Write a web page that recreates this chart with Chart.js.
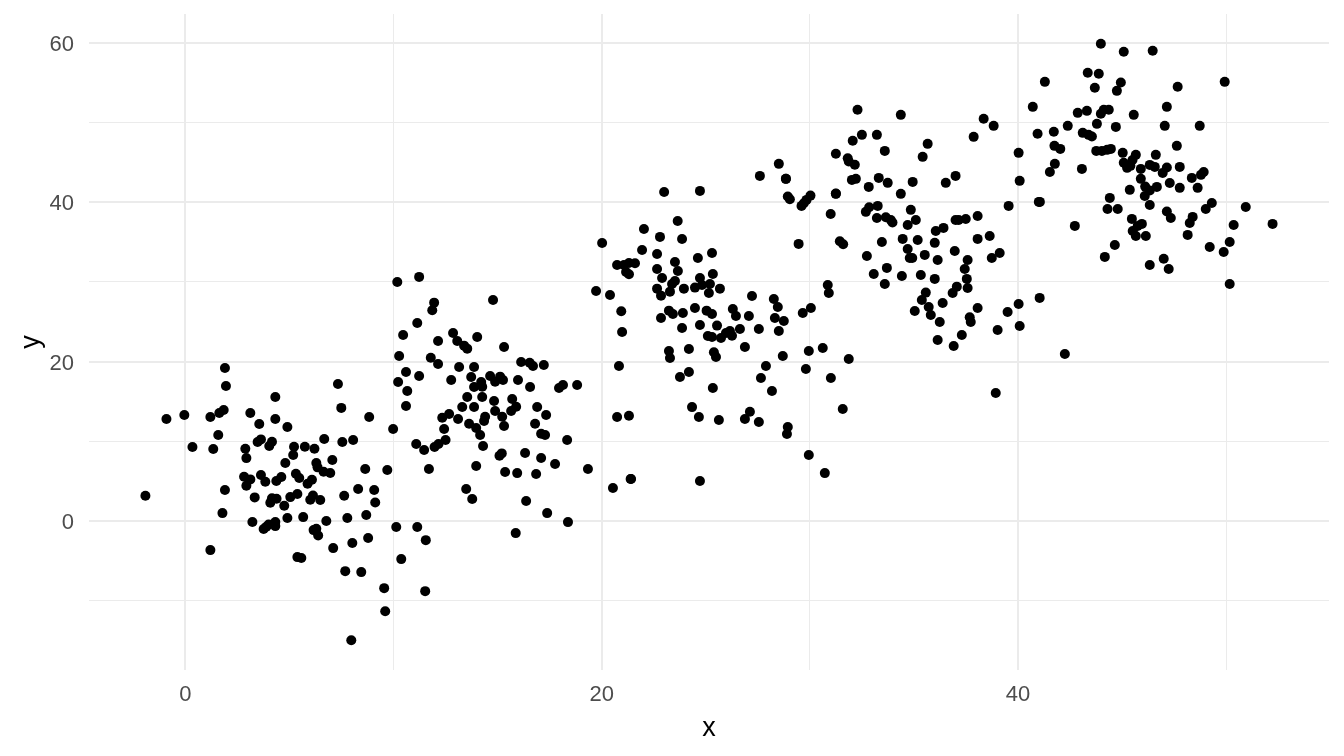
<!DOCTYPE html>
<html>
<head>
<meta charset="utf-8">
<script src="https://cdn.jsdelivr.net/npm/chart.js@4"></script>
<style>
  html, body { margin: 0; padding: 0; background: #fff; }
  #wrap { width: 1344px; height: 756px; }
</style>
</head>
<body>
<div id="wrap"><canvas id="chart" width="1344" height="756"></canvas></div>
<script>
// values, one row of x lines up with one row of y
const xValues = [
  1.90, 1.95, 4.32, 7.33, 7.49, -0.91, -0.05, 1.20, 1.63, 1.84,
  3.12, 3.55, 4.32, 4.90, 8.83, 9.98, 1.58, 0.34, 1.34, 2.88,
  2.93, 3.47, 3.63, 4.16, 4.03, 5.22, 5.74, 6.20, 6.67, 7.54,
  8.06, 5.18, 4.80, 7.06, 6.29, 6.35, 6.64, 6.96, 8.64, 9.70,
  5.31, 5.47, 2.82, 3.12, 2.93, 3.63, 3.84, 4.37, 4.61, 5.87,
  6.08, 1.90, -1.92, 3.33, 4.16, 4.38, 4.08, 4.75, 5.04, 5.38,
  6.00, 6.13, 6.48, 7.63, 8.30, 9.07, 9.12, 1.78, 3.22, 4.90,
  5.66, 6.77, 7.78, 8.69, 4.32, 4.32, 4.00, 3.76, 3.89, 6.16,
  6.29, 6.38, 7.10, 8.02, 8.78, 10.13, 11.14, 11.55, 1.20, 5.38,
  5.57, 7.68, 8.45, 10.37, 9.55, 11.52, 9.60, 7.97, 10.27, 10.60,
  11.23, 10.22, 10.66, 10.60, 11.09, 11.47, 11.70,
  // second cluster
  10.18, 11.23, 11.95, 11.86, 14.78, 11.14, 10.46, 12.86, 13.06, 13.39,
  13.54, 14.02, 12.14, 15.31, 11.79, 12.14, 13.15, 13.87, 16.13, 16.54,
  16.70, 17.22, 20.83, 13.73, 12.77, 14.64, 14.88, 15.12, 15.26, 15.98,
  16.56, 14.21, 14.26, 13.87, 13.54, 14.26, 14.83, 15.70, 17.95, 18.14,
  18.82, 13.30, 13.87, 15.89, 15.65, 14.88, 15.22, 16.90, 17.33, 14.40,
  14.35, 12.67, 12.34, 13.10, 13.63, 13.97, 14.16, 15.31, 16.80, 17.09,
  17.28, 18.34, 12.43, 20.74, 21.31, 12.50, 12.16, 11.97, 14.30, 15.20,
  15.09, 16.32, 17.09, 17.76, 19.34, 13.97, 15.36, 15.94, 16.85, 21.41,
  20.54, 13.49, 13.78, 16.37, 17.38, 18.38, 15.87, 19.73, 20.40, 20.94,
  20.98, 21.17, 21.31, 21.60,
  // third cluster
  23.00, 24.72, 28.94, 29.04, 30.03, 29.84, 29.71, 29.60, 31.25, 31.00,
  29.46, 31.44, 31.60, 23.65, 22.03, 22.80, 23.86, 20.02, 21.94, 22.66,
  25.30, 24.62, 23.52, 21.07, 22.66, 23.66, 25.34, 22.90, 24.72, 23.52,
  23.38, 25.20, 24.82, 24.48, 23.95, 25.68, 22.66, 22.85, 23.28, 25.15,
  27.22, 28.27, 28.46, 30.86, 30.91, 24.48, 23.23, 23.42, 23.90, 22.85,
  25.04, 25.30, 26.30, 26.45, 27.07, 28.32, 28.75, 29.66, 30.05, 23.86,
  24.72, 25.54, 27.55, 26.64, 28.51, 26.16, 25.97, 26.26, 25.73, 25.10,
  25.30, 26.88, 23.23, 23.28, 24.19, 25.39, 25.49, 28.70, 29.95, 30.62,
  31.87, 27.89, 29.81, 24.19, 23.76, 27.65, 31.01, 25.34, 28.18, 31.58,
  24.34, 24.67, 25.63, 27.12, 26.88, 27.55, 28.94, 28.90, 29.95, 30.72,
  21.39, 24.72, 21.31, 20.74, 28.85,
  // fourth cluster
  32.29, 34.37, 38.35, 38.83, 40.94, 37.87, 32.50, 32.06, 33.22, 35.66,
  33.60, 35.42, 31.25, 31.82, 31.87, 32.16, 28.51, 27.60, 28.85, 40.03,
  40.08, 41.00, 37.00, 36.53, 33.31, 32.02, 32.21, 33.74, 34.94, 32.83,
  31.25, 34.37, 33.26, 32.85, 32.69, 34.85, 39.55, 38.06, 37.49, 37.00,
  37.15, 33.22, 33.65, 33.89, 33.97, 35.09, 34.70, 36.42, 36.05, 38.64,
  38.06, 34.46, 35.18, 36.00, 33.46, 34.70, 36.96, 39.12, 38.74, 32.74,
  35.52, 34.80, 34.92, 36.14, 37.58, 37.44, 33.70, 33.07, 34.42, 35.33,
  36.00, 37.54, 33.60, 37.06, 36.86, 37.58, 35.57, 35.38, 36.38, 35.71,
  35.81, 35.04, 38.06, 40.03, 41.04, 39.50, 37.68, 37.73, 36.24, 40.08,
  39.02, 37.30, 36.14, 36.91, 38.93,
  // fifth cluster
  43.98, 45.08, 46.47, 43.35, 43.88, 41.29, 44.94, 44.75, 43.69, 47.67,
  49.93, 40.71, 42.87, 43.31, 44.36, 44.12, 43.98, 45.56, 47.15, 42.39,
  43.79, 44.70, 47.05, 48.73, 41.72, 43.11, 43.39, 43.55, 47.63, 41.75,
  42.03, 43.76, 44.03, 44.28, 44.46, 45.03, 45.66, 45.50, 46.62, 45.08,
  45.24, 45.40, 41.77, 41.53, 43.07, 46.33, 46.57, 45.90, 47.15, 46.95,
  47.77, 48.92, 48.79, 48.35, 45.90, 47.29, 47.77, 48.63, 46.11, 46.33,
  46.67, 45.37, 46.09, 44.41, 41.05, 46.33, 44.30, 44.79, 49.31, 49.02,
  50.94, 47.15, 47.34, 45.47, 48.39, 48.25, 45.95, 45.75, 50.36, 52.23,
  42.73, 45.51, 45.66, 46.14, 48.15, 50.17, 44.65, 49.21, 49.88, 44.17,
  47.00, 46.33, 47.24, 50.17, 42.25
];

const yValues = [
  19.20, 16.95, 15.57, 17.20, 14.20, 12.80, 13.30, 13.05, 13.56, 13.93,
  13.56, 12.18, 12.80, 11.80, 13.05, 11.55, 10.80, 9.29, 9.04, 9.08,
  7.90, 9.92, 10.25, 9.96, 9.41, 9.33, 9.33, 9.08, 10.30, 9.92,
  10.17, 8.29, 7.28, 7.66, 7.28, 6.74, 6.19, 6.03, 6.53, 6.40,
  5.94, 5.40, 5.56, 5.23, 4.44, 5.77, 4.94, 5.02, 5.52, 4.69,
  5.19, 3.89, 3.18, 2.97, 2.85, 2.80, 2.30, 1.93, 3.01, 3.39,
  2.68, 3.22, 2.64, 3.18, 4.02, 3.89, 2.34, 1.00, -0.12, 0.38,
  0.50, 0.00, 0.38, 0.76, -0.12, -0.63, -0.42, -1.00, -0.71, -1.13,
  -0.96, -1.80, -3.39, -2.76, -2.13, -0.75, -0.75, -2.39, -3.64, -4.52,
  -4.64, -6.28, -6.40, -4.77, -8.41, -8.79, -11.30, -14.94, 20.71, 18.70,
  18.20, 17.45, 16.32, 14.44, 9.67, 8.91, 6.53,
  // second cluster
  30.00, 30.63, 27.40, 26.44, 27.74, 24.85, 23.35, 23.60, 22.60, 22.01,
  21.63, 23.10, 22.60, 21.84, 20.50, 19.70, 19.33, 19.33, 19.96, 19.87,
  19.45, 19.58, 19.45, 18.07, 17.70, 18.20, 17.49, 18.12, 17.70, 17.70,
  16.82, 17.45, 16.86, 16.82, 15.56, 15.56, 15.06, 15.31, 16.69, 17.07,
  17.07, 14.31, 14.31, 14.35, 13.81, 13.81, 13.09, 14.31, 13.30, 13.09,
  12.55, 13.43, 12.97, 12.80, 12.22, 11.67, 10.79, 11.92, 12.22, 10.96,
  10.79, 10.17, 11.55, 13.05, 13.22, 10.17, 9.66, 9.29, 9.41, 8.49,
  8.20, 8.53, 7.91, 7.15, 6.53, 6.90, 6.15, 6.02, 5.90, 5.27,
  4.14, 4.02, 2.76, 2.51, 1.00, -0.13, -1.51, 28.87, 28.37, 26.32,
  23.72, 31.25, 30.96, 32.34,
  // third cluster
  41.29, 41.42, 40.71, 40.37, 40.83, 40.29, 39.87, 39.54, 41.08, 38.53,
  34.77, 35.10, 34.72, 37.65, 36.65, 35.65, 35.39, 34.89, 34.01, 33.51,
  33.64, 33.00, 32.50, 32.13, 31.63, 31.38, 31.00, 30.50, 30.50, 30.12,
  29.75, 29.75, 29.62, 29.29, 29.16, 29.16, 29.16, 28.28, 28.78, 28.62,
  28.24, 27.86, 26.86, 29.62, 28.62, 26.73, 26.40, 25.98, 26.11, 25.48,
  26.40, 25.98, 26.60, 25.73, 25.73, 25.48, 25.10, 26.11, 26.73, 24.22,
  24.60, 24.52, 24.10, 24.10, 23.85, 23.85, 23.60, 23.26, 22.97, 23.22,
  23.09, 21.84, 21.34, 20.46, 21.59, 21.17, 20.58, 20.71, 21.34, 21.71,
  20.33, 19.45, 19.08, 18.70, 18.07, 17.95, 17.95, 16.69, 16.31, 14.06,
  14.30, 13.05, 12.67, 13.72, 12.80, 12.42, 11.80, 10.92, 8.28, 6.02,
  5.27, 5.02, 32.38, 32.13, 42.93,
  // fourth cluster
  51.59, 50.96, 50.46, 49.58, 48.58, 48.20, 48.45, 47.70, 48.45, 47.32,
  46.44, 45.69, 46.07, 45.52, 45.10, 44.69, 44.81, 43.30, 42.93, 46.19,
  42.68, 40.04, 43.30, 42.43, 43.05, 42.80, 42.93, 42.43, 42.55, 41.92,
  41.05, 41.05, 39.54, 39.37, 38.79, 39.04, 39.54, 38.28, 37.90, 37.78,
  37.78, 38.03, 38.12, 37.78, 37.45, 37.78, 37.15, 36.78, 36.40, 35.77,
  35.40, 35.40, 35.27, 34.90, 35.02, 34.14, 33.89, 33.64, 33.00, 33.26,
  33.39, 33.01, 33.01, 32.76, 32.76, 31.63, 31.76, 31.00, 30.75, 30.88,
  30.38, 30.38, 29.75, 29.41, 28.62, 29.25, 28.66, 27.74, 27.36, 26.86,
  25.86, 26.36, 26.74, 27.24, 28.00, 26.23, 25.56, 24.98, 24.98, 24.48,
  23.97, 23.35, 22.72, 21.97, 16.07,
  // fifth cluster
  59.87, 58.87, 58.99, 56.23, 56.11, 55.10, 55.02, 53.97, 54.35, 54.48,
  55.10, 51.96, 51.21, 51.46, 51.59, 51.59, 51.09, 50.96, 51.96, 49.58,
  49.83, 49.45, 49.58, 49.58, 48.83, 48.70, 48.45, 48.24, 47.07, 47.07,
  46.69, 46.44, 46.44, 46.57, 46.69, 46.19, 45.94, 45.30, 45.94, 44.94,
  44.31, 44.56, 44.81, 43.80, 44.18, 44.68, 44.43, 44.18, 44.35, 43.68,
  44.43, 43.80, 43.43, 43.05, 42.93, 42.42, 41.80, 41.80, 41.96, 41.46,
  41.92, 41.55, 40.79, 40.54, 40.04, 39.66, 39.16, 39.16, 39.91, 39.16,
  39.41, 38.83, 38.03, 37.91, 38.16, 37.40, 37.28, 37.03, 37.15, 37.28,
  37.03, 36.40, 35.77, 35.77, 35.90, 35.02, 34.64, 34.39, 33.76, 33.14,
  32.90, 32.13, 31.63, 29.75, 20.96
];

const xMajorTicks = [0, 20, 40];
const yMajorTicks = [0, 20, 40, 60];

const gridColor = '#ebebeb';
const tickColor = '#4d4d4d';
const tickFont = { family: '"Liberation Sans", Arial, sans-serif', size: 22 };
const titleFont = { family: '"Liberation Sans", Arial, sans-serif', size: 27 };

const points = xValues.map((x, i) => ({ x: x, y: yValues[i] }));

function gridWidth(majors) {
  return ctx => majors.includes(ctx.tick.value) ? 2 : 1;
}

// keep the plot area where it is whatever the tick labels measure
function fixHeight(h) {
  return scale => { scale.height = h; scale.paddingLeft = 0; scale.paddingRight = 0; };
}
function fixWidth(w) {
  return scale => { scale.width = w; scale.paddingTop = 0; scale.paddingBottom = 0; };
}

new Chart(document.getElementById('chart').getContext('2d'), {
  type: 'scatter',
  data: {
    datasets: [{
      data: points,
      backgroundColor: '#000',
      borderWidth: 0,
      pointRadius: 5,
      pointHoverRadius: 5
    }]
  },
  options: {
    responsive: false,
    animation: false,
    layout: { padding: { top: 14, right: 15, bottom: 0, left: 0 } },
    plugins: { legend: { display: false }, tooltip: { enabled: false } },
    scales: {
      x: {
        type: 'linear',
        min: -4.63,
        max: 54.94,
        afterFit: fixHeight(86),
        border: { display: false },
        grid: { color: gridColor, lineWidth: gridWidth(xMajorTicks), drawTicks: false },
        ticks: {
          stepSize: 10,
          includeBounds: false,
          maxRotation: 0,
          autoSkip: false,
          padding: 12,
          color: tickColor,
          font: tickFont,
          callback: v => xMajorTicks.includes(v) ? String(v) : ''
        },
        title: { display: true, text: 'x', color: '#000', font: titleFont, padding: { top: 0, bottom: 11 } }
      },
      y: {
        type: 'linear',
        min: -18.68,
        max: 63.61,
        afterFit: fixWidth(89),
        border: { display: false },
        grid: { color: gridColor, lineWidth: gridWidth(yMajorTicks), drawTicks: false },
        ticks: {
          stepSize: 10,
          includeBounds: false,
          autoSkip: false,
          padding: 15,
          labelOffset: 2,
          color: tickColor,
          font: tickFont,
          callback: v => yMajorTicks.includes(v) ? String(v) : ''
        },
        title: { display: true, text: 'y', color: '#000', font: titleFont, padding: { top: 15, bottom: 0 } }
      }
    }
  }
});
</script>
</body>
</html>
